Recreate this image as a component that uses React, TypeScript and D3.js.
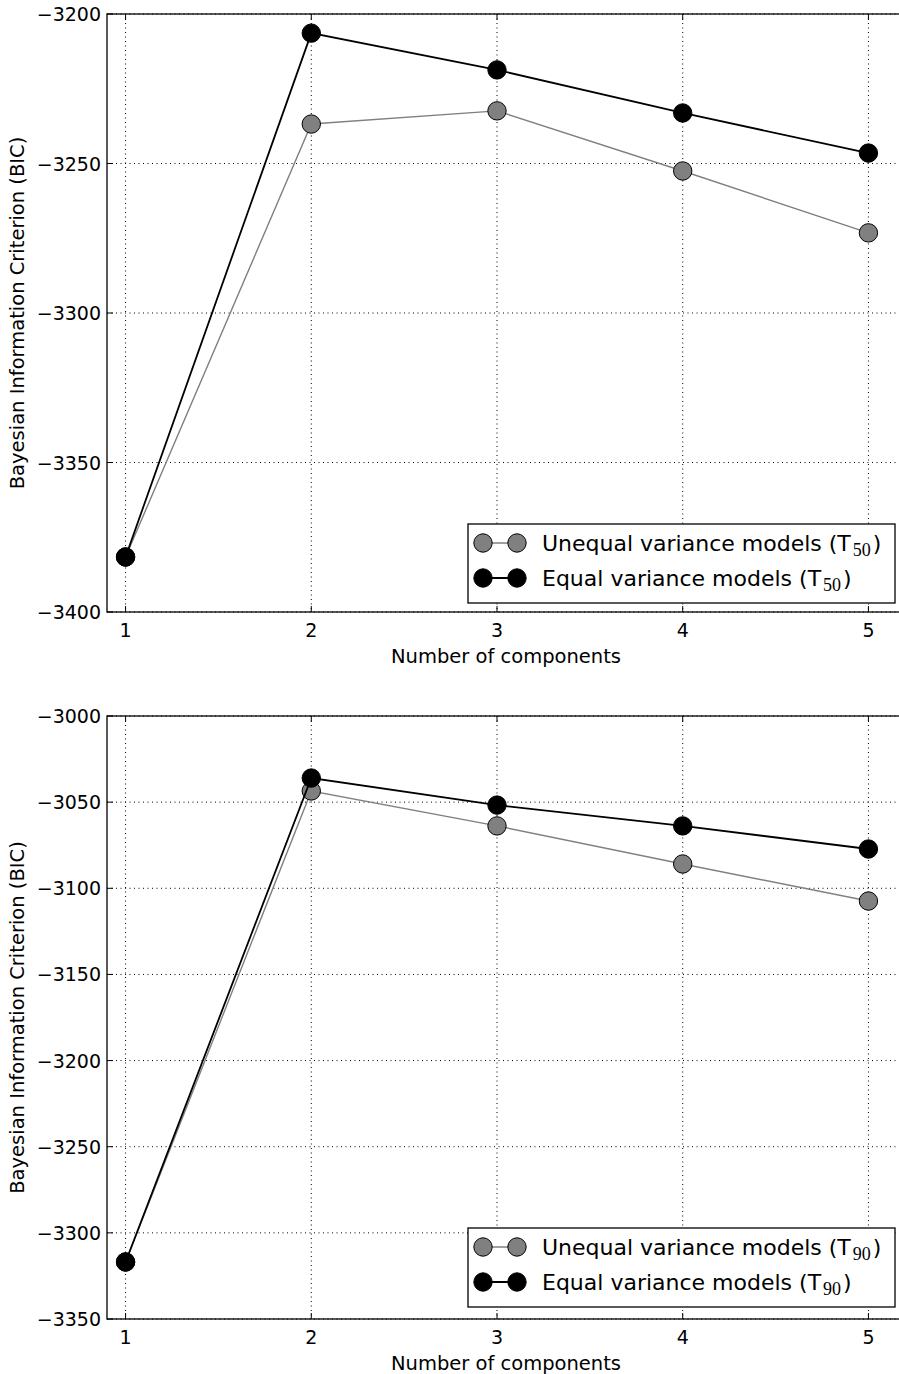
import * as d3 from 'd3'

// x categories: number of mixture components
const COMPONENTS = [1, 2, 3, 4, 5]

// panel 1 (T50)
const T50_UNEQUAL = [-3381.6, -3236.8, -3232.4, -3252.5, -3273.2]
const T50_EQUAL = [-3381.6, -3206.4, -3218.7, -3233.1, -3246.5]
const T50_TICKS = [-3400, -3350, -3300, -3250, -3200]

// panel 2 (T90)
const T90_UNEQUAL = [-3316.9, -3043.5, -3063.8, -3085.9, -3107.4]
const T90_EQUAL = [-3316.9, -3036.0, -3051.7, -3063.8, -3077.2]
const T90_TICKS = [-3350, -3300, -3250, -3200, -3150, -3100, -3050, -3000]

const FONT = '"DejaVu Sans", sans-serif'
const MATH_FONT = '"Liberation Serif", "DejaVu Serif", serif'
const W = 899
const H = 1374
const LEFT = 107
const RIGHT = 900

const fmt = (v: number) => (v < 0 ? '\u2212' + Math.abs(v) : String(v))

interface PanelProps {
  top: number
  bottom: number
  yDomain: [number, number]
  yTicks: number[]
  unequal: number[]
  equal: number[]
  sub: string
  legendTop: number
}

function Panel({ top, bottom, yDomain, yTicks, unequal, equal, sub, legendTop }: PanelProps) {
  const x = d3.scaleLinear().domain([0.9, 5.17]).range([LEFT, RIGHT])
  const y = d3.scaleLinear().domain(yDomain).range([bottom, top])
  const line = d3.line<number>()
    .x((_, i) => x(COMPONENTS[i]))
    .y(d => y(d))

  const series = [
    { label: 'Unequal variance models', values: unequal, fill: '#808080', stroke: '#808080', width: 1.4 },
    { label: 'Equal variance models', values: equal, fill: '#000000', stroke: '#000000', width: 1.8 },
  ]

  const midY = (top + bottom) / 2
  const lx = 468
  const lw = 427
  const lh = 79

  return (
    <g>
      {/* grid */}
      {COMPONENTS.map(c => (
        <line key={'gx' + c} x1={x(c)} x2={x(c)} y1={top} y2={bottom}
          stroke="#000" strokeWidth={1} strokeDasharray="1,3.5" />
      ))}
      {yTicks.map(t => (
        <line key={'gy' + t} x1={LEFT} x2={RIGHT} y1={y(t)} y2={y(t)}
          stroke="#000" strokeWidth={1} strokeDasharray="1,3.5" />
      ))}

      {/* series */}
      {series.map(s => (
        <g key={s.label}>
          <path d={line(s.values) ?? ''} fill="none" stroke={s.stroke} strokeWidth={s.width} />
          {s.values.map((v, i) => (
            <circle key={i} cx={x(COMPONENTS[i])} cy={y(v)} r={9.2}
              fill={s.fill} stroke="#000" strokeWidth={1} />
          ))}
        </g>
      ))}

      {/* frame */}
      <rect x={LEFT} y={top} width={RIGHT - LEFT} height={bottom - top}
        fill="none" stroke="#000" strokeWidth={1.3} />

      {/* y ticks */}
      {yTicks.map(t => (
        <g key={'ty' + t}>
          <line x1={LEFT} x2={LEFT + 6} y1={y(t)} y2={y(t)} stroke="#000" strokeWidth={1} />
          <text x={LEFT - 6} y={y(t)} textAnchor="end" dominantBaseline="central"
            fontFamily={FONT} fontSize={19}>{fmt(t)}</text>
        </g>
      ))}

      {/* x ticks */}
      {COMPONENTS.map(c => (
        <g key={'tx' + c}>
          <line x1={x(c)} x2={x(c)} y1={bottom} y2={bottom - 6} stroke="#000" strokeWidth={1} />
          <line x1={x(c)} x2={x(c)} y1={top} y2={top + 6} stroke="#000" strokeWidth={1} />
          <text x={x(c)} y={bottom + 25} textAnchor="middle"
            fontFamily={FONT} fontSize={19}>{c}</text>
        </g>
      ))}

      {/* axis labels */}
      <text x={506} y={bottom + 51} textAnchor="middle"
        fontFamily={FONT} fontSize={19.5}>Number of components</text>
      <text transform={`translate(24,${midY}) rotate(-90)`} textAnchor="middle"
        fontFamily={FONT} fontSize={19.5}>Bayesian Information Criterion (BIC)</text>

      {/* legend */}
      <rect x={lx} y={legendTop} width={lw} height={lh} fill="#fff" stroke="#000" strokeWidth={1.3} />
      {series.map((s, i) => {
        const ry = legendTop + 19 + i * 35
        return (
          <g key={'lg' + s.label}>
            <line x1={lx + 15} x2={lx + 49} y1={ry} y2={ry} stroke={s.stroke} strokeWidth={s.width} />
            <circle cx={lx + 15} cy={ry} r={9.2} fill={s.fill} stroke="#000" strokeWidth={1} />
            <circle cx={lx + 49} cy={ry} r={9.2} fill={s.fill} stroke="#000" strokeWidth={1} />
            <text x={lx + 74} y={ry + 8} fontFamily={FONT} fontSize={22}>
              {s.label} (T
              <tspan fontFamily={MATH_FONT} fontSize={18} dx={2} dy={5}>{sub}</tspan>
              <tspan dx={2} dy={-5}>)</tspan>
            </text>
          </g>
        )
      })}
    </g>
  )
}

export default function App() {
  return (
    <svg width={W} height={H} style={{ position: 'absolute', left: 0, top: 0, background: '#fff' }}>
      <rect width={W} height={H} fill="#fff" />
      <Panel top={14} bottom={612} yDomain={[-3400, -3200]} yTicks={T50_TICKS}
        unequal={T50_UNEQUAL} equal={T50_EQUAL} sub="50" legendTop={524} />
      <Panel top={716} bottom={1319} yDomain={[-3350, -3000]} yTicks={T90_TICKS}
        unequal={T90_UNEQUAL} equal={T90_EQUAL} sub="90" legendTop={1228} />
    </svg>
  )
}
